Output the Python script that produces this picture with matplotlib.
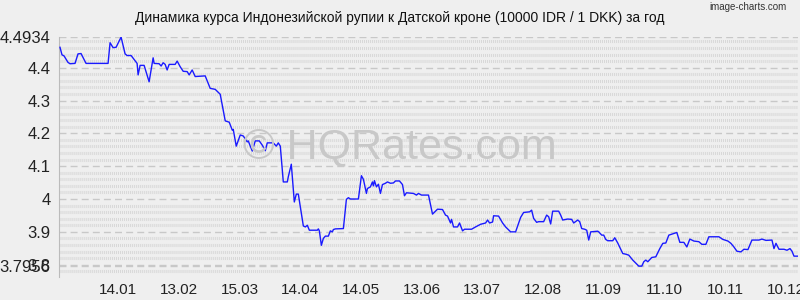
"""
IDR/DKK rate over a year (10000 IDR / 1 DKK)
"""

import matplotlib
matplotlib.use("Agg")
import matplotlib.pyplot as plt
import numpy as np

plt.rcParams['font.family'] = ['Liberation Sans', 'DejaVu Sans']

TITLE = "Динамика курса Индонезийской рупии к Датской кроне (10000 IDR / 1 DKK) за год"

# day offsets from the start of the period and the rate on that day
days = [0.5, 1.5, 2.5, 4.5, 5.5, 8, 9.5, 11, 13.5, 24.5, 25.5, 27, 28.5, 31, 33, 34, 36, 39,
        39.5, 40.5, 42.5, 45, 47, 47.5, 50, 51, 52, 53, 54, 55, 58, 59, 60.5, 62,
        64, 65, 66.5, 68, 73, 75.5, 78, 80.5, 83, 85, 86.5, 87, 88.5, 90.5, 92, 94,
        94.5, 96.5, 98, 100, 101.5, 103, 104, 107, 108.5, 109.5, 110.5, 112, 114,
        114.5, 116, 117.5, 118.5, 119.5, 122, 123, 124, 125,
        129, 129.5, 130, 131, 132, 133, 134.5, 135.5, 136.5, 137, 138, 142, 143.5,
        144.5, 145.5, 149.5, 151, 152, 153.5, 154, 155.5, 156.5, 157, 157.5, 158.5,
        159.5, 160.5, 161.5, 163, 164, 165.5, 167, 168, 170, 171.5, 172.5, 173.5,
        177, 178.5, 179.5, 181, 184.5,
        186.5, 189, 191.5, 193, 194, 195.5, 196, 197, 199, 200, 201.5, 202.5, 206,
        208, 210.5, 213, 214, 215, 216.5, 217, 219.5, 221.5, 223, 225.5, 228, 230.5,
        232, 235, 236, 237, 238.5, 239.5, 242, 243.5, 244.5, 245.5, 246.5,
        249.5, 250.5, 251.5, 254, 256, 257, 259, 260, 261, 262.5, 263.5, 264.5,
        265.5, 269, 269.5, 271, 272, 273, 274, 276.5, 277.5, 279, 281.5, 283, 284.5,
        286.5, 288, 289.5, 291, 292, 293, 294, 296, 298, 300, 301.5, 303, 304.5,
        305.5, 308.5, 310, 312, 313.5, 315, 317, 319.5, 321, 323, 324.5, 329.5,
        331.5, 334, 335.5, 337, 338.5, 340.5, 342, 344, 346, 349.5, 351, 353, 356,
        357, 358, 359.5, 362, 363.5, 365, 366, 367, 369]
rate = [4.462, 4.439, 4.436, 4.416, 4.412, 4.413, 4.442, 4.443, 4.413, 4.413, 4.476, 4.461,
        4.462, 4.493, 4.442, 4.437, 4.437, 4.413, 4.378, 4.407, 4.407, 4.357, 4.430,
        4.413, 4.412, 4.405, 4.415, 4.410, 4.393, 4.410, 4.410, 4.420, 4.403, 4.389,
        4.388, 4.378, 4.393, 4.373, 4.375, 4.337, 4.334, 4.319, 4.238, 4.234, 4.210,
        4.212, 4.161, 4.195, 4.192, 4.174, 4.177, 4.146, 4.177, 4.177, 4.164, 4.147,
        4.171, 4.171, 4.161, 4.171, 4.161, 4.052, 4.052, 4.068, 4.106, 3.991, 4.015,
        4.015, 3.918, 3.915, 3.920, 3.905,
        3.905, 3.909, 3.903, 3.859, 3.880, 3.887, 3.887, 3.903, 3.900, 3.907, 3.909,
        3.910, 3.999, 4.004, 4.000, 4.000, 4.071, 4.060, 4.017, 4.032, 4.037, 4.052,
        4.040, 4.056, 4.037, 4.045, 4.017, 4.044, 4.048, 4.052, 4.048, 4.049, 4.055,
        4.055, 4.044, 4.010, 4.019, 4.017, 4.012, 4.017, 4.012, 4.012,
        3.954, 3.969, 3.968, 3.951, 3.948, 3.927, 3.938, 3.915, 3.915, 3.927, 3.903,
        3.908, 3.908, 3.915, 3.923, 3.927, 3.936, 3.927, 3.930, 3.949, 3.948, 3.927,
        3.915, 3.900, 3.900, 3.944, 3.959, 3.961, 3.966, 3.941, 3.929, 3.931, 3.931,
        3.951, 3.946, 3.924, 3.963,
        3.963, 3.951, 3.936, 3.939, 3.938, 3.927, 3.936, 3.931, 3.910, 3.908, 3.905,
        3.875, 3.900, 3.902, 3.900, 3.890, 3.890, 3.877, 3.873, 3.873, 3.882, 3.866,
        3.834, 3.832, 3.829, 3.814, 3.805, 3.7956, 3.7956, 3.809, 3.814, 3.809, 3.822,
        3.824, 3.849, 3.865, 3.866, 3.890,
        3.892, 3.898, 3.868, 3.868, 3.854, 3.878, 3.872, 3.870, 3.862, 3.862, 3.885,
        3.885, 3.877, 3.872, 3.865, 3.854, 3.841, 3.839, 3.847, 3.846, 3.875, 3.875,
        3.878, 3.874, 3.875, 3.849, 3.865, 3.847, 3.847, 3.844, 3.849, 3.841, 3.826,
        3.826]

x_labels = ["14.01", "13.02", "15.03", "14.04", "14.05", "13.06",
            "13.07", "12.08", "11.09", "11.10", "10.11", "10.12"]
y_ticks = [3.7956, 3.8, 3.9, 4.0, 4.1, 4.2, 4.3, 4.4, 4.4934]
y_labels = ["3.7956", "3.8", "3.9", "4", "4.1", "4.2", "4.3", "4.4", "4.4934"]

BG = '#efefef'

fig = plt.figure(figsize=(8, 3), dpi=100, facecolor=BG)
ax = fig.add_axes([59 / 800, 23 / 300, 739 / 800, 240 / 300])
ax.set_facecolor(BG)

y_min, y_max = 3.7625, 4.4934
ax.set_xlim(0, 369)
ax.set_ylim(y_min, y_max)

# background rows of short vertical dashes
for v in np.arange(3.78, 4.50, 0.02):
    if min(abs(v - t) for t in y_ticks) < 0.005:
        continue
    ax.axhline(v, color='#d8d8d8', lw=2.2, linestyle=(0, (0.33, 0.33)), zorder=0)

# major gridlines
for t in y_ticks:
    ax.axhline(t, color='#c8c8c8', lw=1, linestyle=(0, (5, 3)), zorder=1)

# watermark
fig.text(0.5, 0.51, "© HQRates.com", ha='center', va='center',
         fontsize=31, color='#c8c8c8', zorder=1)

ax.plot(days, rate, color='#1a1aff', lw=1, zorder=3)

for side in ['top', 'right', 'bottom']:
    ax.spines[side].set_visible(False)
ax.spines['left'].set_color('#bbbbbb')

tick_pos = [29.5 + 30.3 * i for i in range(len(x_labels))]
ax.set_xticks(tick_pos)
ax.set_xticklabels(x_labels, fontsize=11, color='#222222')
ax.set_yticks(y_ticks)
ax.set_yticklabels(y_labels, fontsize=12, color='#222222')
ax.tick_params(axis='both', length=0, pad=6)
ax.tick_params(axis='x', pad=4)

fig.text(0.5, 0.94, TITLE, ha='center', va='center', fontsize=10, color='#111111')
fig.text(0.935, 0.975, "image-charts.com", ha='center', va='center', fontsize=7, color='#333333')

plt.savefig('out.png', dpi=100, facecolor=BG)
